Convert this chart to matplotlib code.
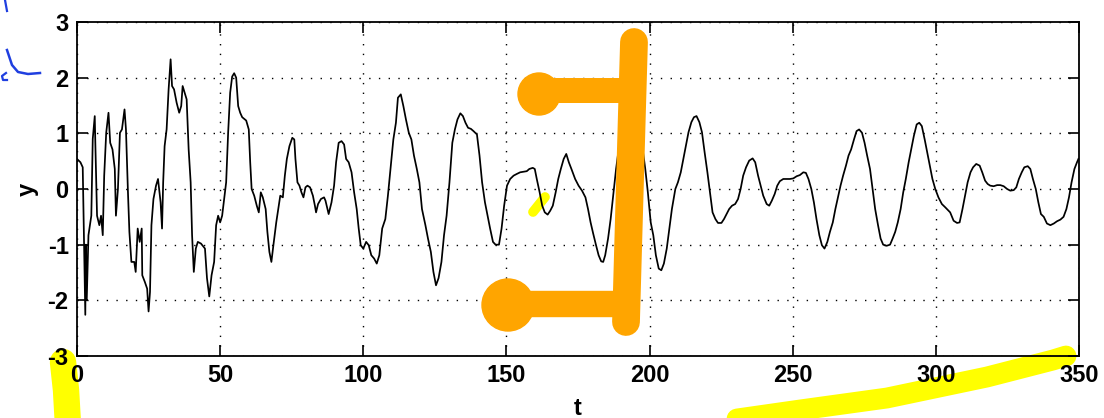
import matplotlib
matplotlib.use('Agg')
from matplotlib import pyplot as plt
from matplotlib.patches import Circle

# traced samples of the signal y(t)
t_vals = [0, 1.2, 2, 2.9, 3.1, 3.4, 4, 5, 5.5, 6.2, 6.4, 7, 7.8, 8.4, 9, 9.5, 10.2, 11, 11.6, 12.4,
          13.2, 13.6, 14.3, 15, 15.7, 16.6, 17.1, 17.8, 18.3, 19, 20, 20.5, 21.2, 21.9, 22.6, 22.8, 23.7, 24.5, 25, 25.5,
          26, 26.7, 27.6, 28.3, 28.8, 29.2, 29.7, 30.1, 30.6, 31.3, 32, 32.7, 33.2, 33.9, 34.8, 35.7, 36.4, 36.9, 37.6, 38.3,
          39, 39.7, 40.2, 40.8, 41.5, 42.2, 43.3, 44.7, 45.4, 46.2, 47, 47.9, 48.6, 49.3, 50, 50.7, 51.4, 52.1, 52.8, 53.5,
          54.2, 54.9, 55.6, 56.3, 57, 57.7, 59.1, 60, 60.5, 61, 61.9, 62.8, 63.5, 64.2, 64.9, 65.9, 66.5, 67.2, 67.9, 68.6,
          69.6, 70.3, 71, 71.9, 72.6, 73.3, 74.2, 75.2, 75.9, 76.3, 77, 77.7, 78.4, 79.1, 79.8, 80.5, 81.4, 82.4, 83.1, 83.5,
          84.2, 85.2, 86.3, 86.8, 87.9, 88.9, 89.8, 90.5, 91.4, 92.4, 93.3, 94, 94.9, 95.9, 96.8, 97.7, 98.4, 99.1, 100, 101,
          101.9, 102.8, 103.8, 104.7, 105.6, 106.6, 107.7, 108.6, 109.6, 110.5, 111.4, 112.1, 113.1, 114, 114.9, 115.9, 116.8, 117.7, 118.7, 119.6,
          120.5, 121.7, 122.6, 123.6, 124.5, 125.4, 126.3, 127.3, 128.2, 129.1, 130.1, 131.1, 132, 132.9, 133.9, 134.8, 135.7, 136.6, 137.6, 138.5,
          139.7, 140.6, 141.5, 142.5, 143.4, 144.3, 145.3, 146.2, 147.4, 148.3, 149.2, 150.2, 151.3, 152.5, 153.6, 154.8, 156, 157.1, 158, 159.2,
          159.9, 160.6, 161.6, 162.5, 163.4, 164.4, 165.3, 166.2, 167.2, 168.1, 169, 170, 170.9, 171.8, 172.7, 174, 175.2, 176.4, 177.6, 178.5,
          179.4, 180.3, 181.3, 182.2, 183.1, 183.8, 184.5, 185.5, 186.4, 187.3, 188.3, 189.2, 190.1, 191.1, 192, 192.9, 193.9, 194.8, 195.7, 196.6,
          197.6, 198.5, 199.4, 200.4, 201.3, 202.2, 203.2, 204.1, 205, 206, 206.9, 207.8, 209, 209.9, 210.9, 211.8, 212.7, 213.6, 214.6, 215.5,
          216.4, 217.4, 218.3, 219.2, 220.2, 221.1, 222, 223, 223.9, 225.1, 226, 226.9, 227.8, 228.8, 229.9, 230.9, 231.8, 232.7, 233.7, 234.8,
          236, 236.9, 237.9, 238.8, 239.7, 240.9, 241.8, 242.7, 243.7, 244.6, 245.5, 246.7, 247.9, 249, 250.2, 251.4, 252.5, 253.7, 254.6, 255.5,
          256.5, 257.4, 258.3, 259.3, 260.2, 261.1, 262.1, 263, 264, 264.9, 265.8, 266.7, 267.6, 268.6, 269.5, 270.4, 271.4, 272.3, 273.2, 274.2,
          275.1, 276, 277, 277.9, 278.8, 279.8, 280.7, 281.6, 282.8, 284, 284.9, 285.8, 286.7, 287.7, 288.6, 289.5, 290.5, 291.4, 292.3, 293.3,
          294.2, 295.1, 296.1, 297, 297.9, 298.8, 299.8, 300.9, 302.1, 303.3, 305, 306.2, 307.4, 308.3, 309.3, 310.2, 311.1, 312.1, 313, 314.1,
          315.3, 316.2, 317.2, 318.1, 319, 320.2, 321.4, 322.5, 323.7, 324.9, 326, 327.2, 328.1, 329, 330, 330.9, 332.1, 333, 333.9, 334.9,
          335.8, 336.7, 337.7, 338.8, 340, 341.2, 342.3, 343.5, 344.6, 345.6, 346.5, 347.4, 348.4, 349.3, 349.8]
y_vals = [0.54, 0.48, 0.39, -2.26, -1.0, -2.0, -0.83, -0.48, 0.9, 1.31, 0.83, -0.48, -0.65, -0.48, -0.83, 0.24, 1.01, 1.37, 0.83, 0.71,
          0.36, -0.48, 0, 1.01, 1.07, 1.43, 1.07, -0.06, -0.77, -1.31, -1.31, -1.49, -0.71, -0.95, -0.71, -1.55, -1.67, -1.79, -2.2, -1.85,
          -0.65, -0.18, 0.06, 0.18, -0.06, -0.24, -0.71, 0.12, 0.77, 1.07, 1.79, 2.33, 1.85, 1.79, 1.55, 1.37, 1.49, 1.85, 1.73, 1.61,
          0.71, 0.12, -0.83, -1.49, -1.07, -0.95, -0.98, -1.07, -1.6, -1.93, -1.55, -1.31, -0.65, -0.48, -0.6, -0.48, -0.18, 0.12, 1.02, 1.73,
          2.02, 2.08, 2.0, 1.49, 1.37, 1.29, 1.23, 1.07, 0.48, 0, -0.12, -0.3, -0.42, -0.06, -0.15, -0.36, -0.77, -1.13, -1.31, -1.01,
          -0.6, -0.36, -0.12, -0.15, 0.24, 0.54, 0.77, 0.92, 0.89, 0.54, 0.12, 0.06, -0.06, -0.15, 0.03, 0.06, 0.03, -0.12, -0.3, -0.42,
          -0.27, -0.18, -0.15, -0.21, -0.45, -0.24, 0.06, 0.48, 0.83, 0.86, 0.8, 0.54, 0.48, 0.3, -0.06, -0.36, -0.71, -1.01, -1.07, -0.95,
          -1.01, -1.19, -1.25, -1.34, -1.19, -0.71, -0.54, -0.12, 0.42, 0.89, 1.19, 1.64, 1.7, 1.49, 1.25, 1.01, 0.89, 0.6, 0.36, 0.12,
          -0.36, -0.65, -0.89, -1.13, -1.49, -1.73, -1.6, -1.31, -0.83, -0.48, 0.12, 0.83, 1.07, 1.25, 1.36, 1.31, 1.19, 1.1, 1.08, 1.04,
          0.98, 0.6, 0.12, -0.24, -0.48, -0.71, -0.95, -1.0, -1.0, -0.71, -0.3, 0.06, 0.18, 0.24, 0.27, 0.3, 0.31, 0.32, 0.36, 0.38,
          0.36, 0.18, -0.06, -0.3, -0.42, -0.46, -0.39, -0.3, -0.06, 0.18, 0.36, 0.54, 0.63, 0.48, 0.36, 0.18, 0.06, -0.03, -0.15, -0.36,
          -0.6, -0.8, -1.01, -1.19, -1.3, -1.31, -1.19, -0.89, -0.54, -0.12, 0.36, 0.71, 0.95, 1.07, 1.15, 1.2, 1.19, 1.14, 1.09, 1.04,
          0.71, 0.36, -0.06, -0.6, -0.83, -1.19, -1.43, -1.46, -1.34, -1.07, -0.71, -0.36, 0, 0.12, 0.3, 0.54, 0.77, 1.02, 1.2, 1.29,
          1.31, 1.2, 1.02, 0.67, 0.3, -0.06, -0.42, -0.54, -0.61, -0.61, -0.54, -0.45, -0.36, -0.3, -0.27, -0.18, 0, 0.24, 0.39, 0.51,
          0.55, 0.48, 0.24, 0.06, -0.12, -0.27, -0.3, -0.21, -0.09, 0.06, 0.14, 0.18, 0.18, 0.18, 0.19, 0.23, 0.25, 0.3, 0.29, 0.18,
          0, -0.24, -0.54, -0.83, -1.01, -1.07, -0.95, -0.77, -0.6, -0.36, -0.15, 0.06, 0.24, 0.42, 0.6, 0.71, 0.89, 1.04, 1.07, 1.01,
          0.83, 0.6, 0.36, 0, -0.36, -0.65, -0.89, -1.0, -1.02, -1.0, -0.89, -0.77, -0.6, -0.36, -0.06, 0.18, 0.48, 0.71, 0.95, 1.16,
          1.19, 1.13, 0.89, 0.65, 0.42, 0.18, 0, -0.15, -0.27, -0.33, -0.42, -0.57, -0.61, -0.6, -0.36, -0.12, 0.12, 0.3, 0.39, 0.45,
          0.42, 0.3, 0.15, 0.09, 0.06, 0.05, 0.07, 0.07, 0.05, 0, -0.03, -0.02, 0.03, 0.18, 0.3, 0.39, 0.41, 0.36, 0.18, 0,
          -0.24, -0.45, -0.5, -0.62, -0.65, -0.62, -0.58, -0.55, -0.5, -0.36, -0.15, 0.12, 0.36, 0.48, 0.54]

x_ticks = [0, 50, 100, 150, 200, 250, 300, 350]
y_ticks = [-3, -2, -1, 0, 1, 2, 3]

plt.rcParams['font.family'] = ['Liberation Sans', 'DejaVu Sans']
plt.rcParams['axes.unicode_minus'] = False

fig = plt.figure(figsize=(11.04, 4.18), dpi=100)

# highlighter strokes go underneath everything (pixel coords of the image)
under = fig.add_axes([0, 0, 1, 1], zorder=0)
under.set_xlim(0, 1104)
under.set_ylim(418, 0)
under.axis('off')

ax = fig.add_axes([77/1104, 1 - 356/418, 1002/1104, 334/418], zorder=1)
ax.patch.set_alpha(0)
ax.plot(t_vals, y_vals, color='black', lw=1.25)
ax.set_xlim(0, 350)
ax.set_ylim(-3, 3)
ax.set_xticks(x_ticks)
ax.set_yticks(y_ticks)
ax.grid(True, color='black', linestyle=(0, (1, 6)), linewidth=1.0)
ax.tick_params(direction='in', length=8, width=1.2, top=True, right=True,
               labelsize=17, pad=6)
for lab in ax.get_xticklabels() + ax.get_yticklabels():
    lab.set_fontweight('bold')
for s in ax.spines.values():
    s.set_linewidth(1.3)
ax.set_xlabel('t', fontsize=17, fontweight='bold', labelpad=7)
ax.set_ylabel('y', fontsize=17, fontweight='bold', labelpad=6)

yellow = '#ffff00'
under.plot([63, 66, 68], [362, 390, 425], color=yellow, lw=19, solid_capstyle='round')
under.plot([695, 800, 887, 987, 1053, 1066], [425, 410, 398, 377, 360, 356],
           color=yellow, lw=15, solid_capstyle='round')
under.plot([533, 545], [212, 197], color=yellow, lw=7, solid_capstyle='round')

# marker-pen strokes on top
ov = fig.add_axes([0, 0, 1, 1], zorder=10)
ov.set_xlim(0, 1104)
ov.set_ylim(418, 0)
ov.axis('off')
ov.patch.set_alpha(0)

orange = '#ffa500'
ov.plot([540, 632], [90, 90], color=orange, lw=18, solid_capstyle='round')
ov.add_patch(Circle((539, 94), 21, color=orange))
ov.plot([634, 632, 626], [42, 110, 322], color=orange, lw=20, solid_capstyle='round')
ov.plot([507, 626], [304, 304], color=orange, lw=19, solid_capstyle='round')
ov.add_patch(Circle((508, 305), 26, color=orange))

blue = '#1f3fe0'
ov.plot([5, 7], [0, 11], color=blue, lw=1.6)
ov.plot([7, 12, 18, 28, 40], [50, 65, 72, 74, 73], color=blue, lw=1.8)
ov.plot([6, 2, 3, 7], [73, 76, 80, 80], color=blue, lw=1.6)

fig.savefig('out.png', dpi=100)
